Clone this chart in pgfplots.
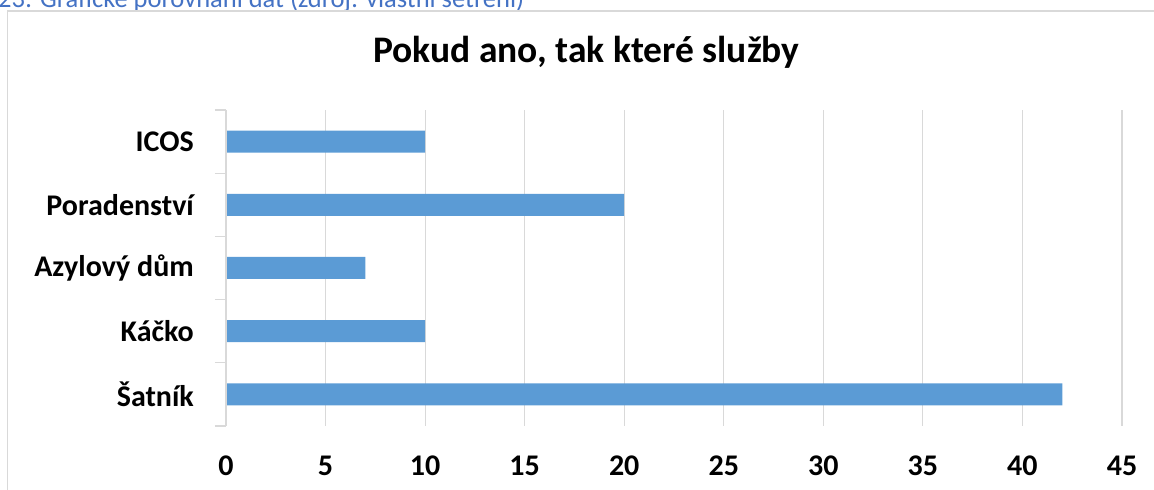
\documentclass[border=0pt]{standalone}
\usepackage{pgfplots}
\pgfplotsset{compat=1.18}
\usepackage{fontspec}
\setmainfont{Carlito}
\definecolor{barblue}{HTML}{5B9BD5}
\definecolor{gridgray}{HTML}{D9D9D9}
\definecolor{capblue}{HTML}{4472C4}
\begin{document}
\begin{tikzpicture}
\useasboundingbox (0bp,0bp) rectangle (1154bp,490bp);
\clip (0bp,0bp) rectangle (1154bp,490bp);
% caption (cut off at top)
\node[anchor=base west, inner sep=0pt, text=capblue, font=\fontsize{26.5bp}{30bp}\selectfont] at (-2bp,482.3bp) {23: Grafické porovnání dat (zdroj: vlastní šetření)};
% chart frame
\draw[gridgray, line width=1.2bp] (7.5bp,-5bp) -- (7.5bp,479bp) -- (1160bp,479bp);
% title
\node[anchor=base, inner sep=0pt, font=\fontsize{37.5bp}{42bp}\selectfont\bfseries] at (586.5bp,427bp) {Pokud ano, tak které služby};
\begin{axis}[
  at={(226bp,64bp)}, anchor=south west,
  scale only axis, width=896bp, height=316bp,
  xmin=0, xmax=45, ymin=0.5, ymax=5.5,
  xbar, bar width=22bp,
  xtick={0,5,...,45},
  ytick={1,2,3,4,5},
  yticklabels={Šatník,Káčko,Azylový dům,Poradenství,ICOS},
  minor ytick={0.5,1.5,2.5,3.5,4.5,5.5},
  major tick length=0pt,
  major y tick style={draw=none},
  minor y tick style={gridgray, line width=1.2bp},
  minor tick length=11bp,
  tick align=outside,
  ytick pos=left,
  xtick style={draw=none},
  xmajorgrids, major grid style={gridgray, line width=1.2bp},
  axis line style={draw=none},
  tick label style={font=\fontsize{30bp}{34bp}\selectfont\bfseries, inner sep=0pt},
  /pgf/number format/assume math mode=true,
  xticklabel style={anchor=base, yshift=-49bp},
  yticklabel style={anchor=east, xshift=-32bp},
]
\addplot[fill=barblue, draw=none] coordinates {(42,1) (10,2) (7,3) (20,4) (10,5)};
\draw[gridgray, line width=1.2bp] (axis cs:0,0.5) -- (axis cs:0,5.5);
\end{axis}
\end{tikzpicture}
\end{document}
